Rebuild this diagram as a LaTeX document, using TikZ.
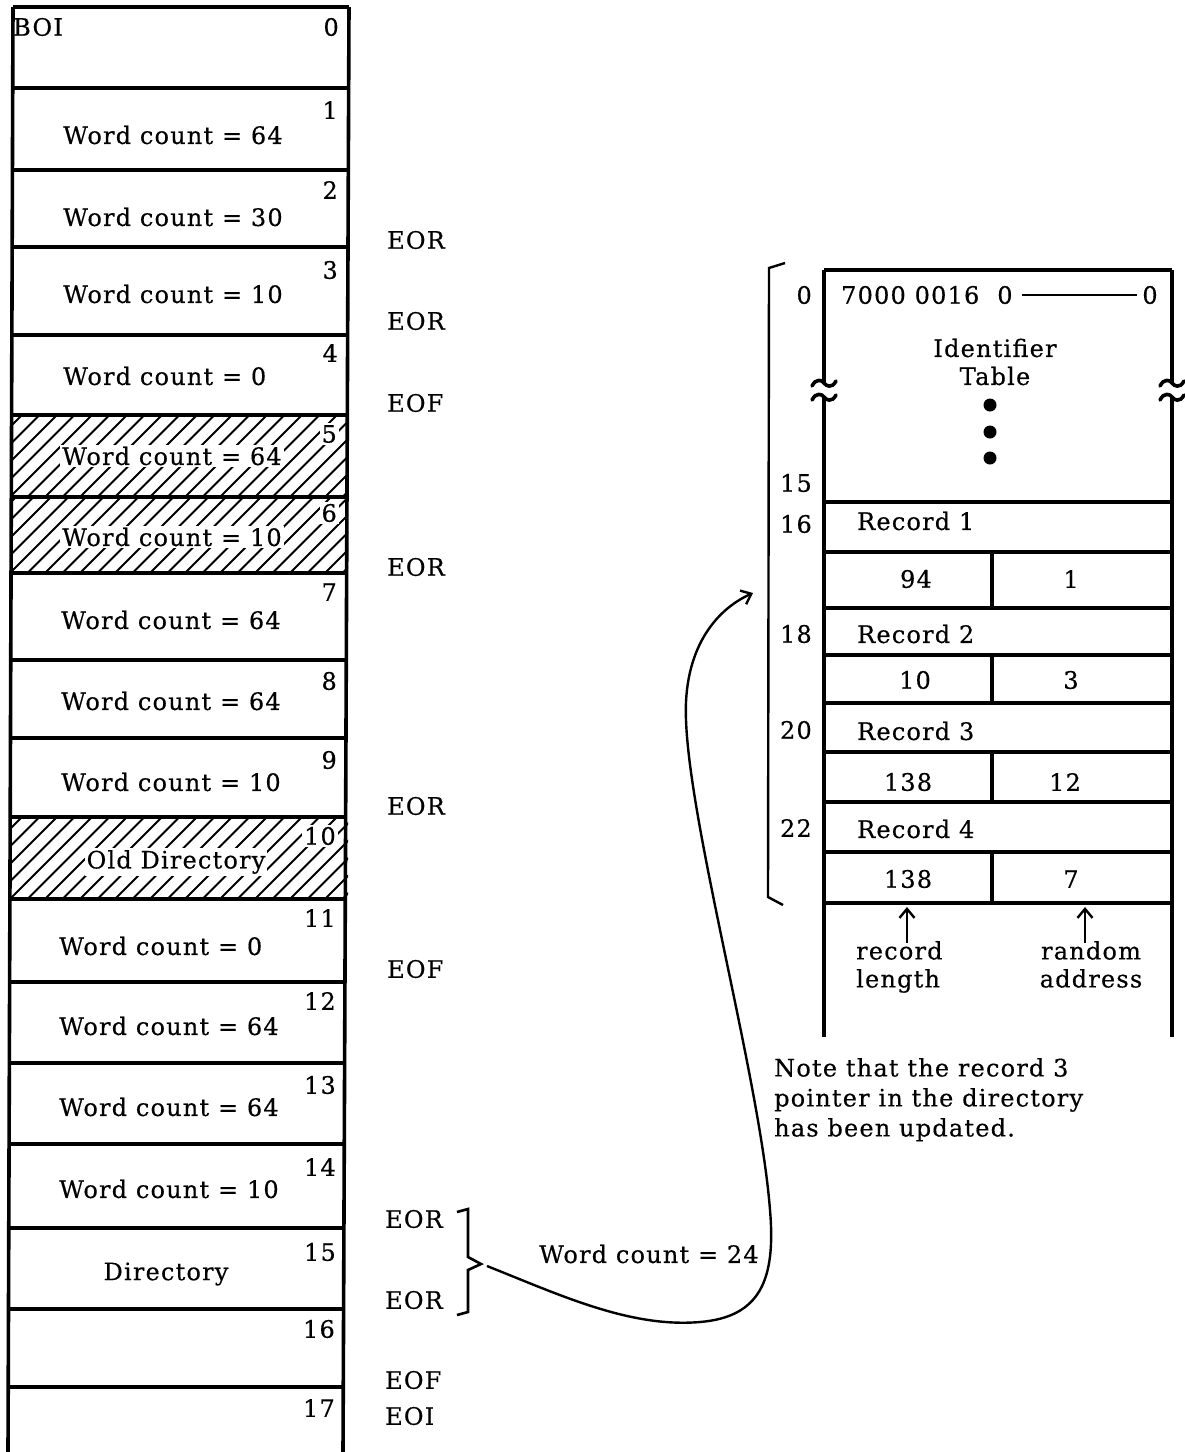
\documentclass[tikz,border=0pt]{standalone}
\usepackage{fontspec}
\setmainfont{DejaVu Serif}[LetterSpace=5,FakeBold=0.4]
\usetikzlibrary{arrows.meta}
\begin{document}
\begin{tikzpicture}[x=1pt,y=-1pt,
  every node/.style={font=\fontsize{24}{28}\selectfont, inner sep=1pt},
  box/.style={line width=3.6pt},
  hatchline/.style={line width=2pt},
  wbg/.style={fill=white, inner sep=2pt},
  barb/.style={-{Straight Barb[length=9pt,width=15pt,line width=2.4pt]}, line width=2.4pt}]
\useasboundingbox (0,0) rectangle (1185,1452);
% ---------- left column ----------
% hatched rows
\foreach \ya/\yb in {415/497, 497/573, 817/899}{
  \begin{scope}
    \clip (10,\ya) rectangle (348,\yb);
    \foreach \k in {-6,...,22}{
      \draw[hatchline] ({10+17.5*\k},\yb) -- ++({\yb-\ya},{\ya-\yb});
    }
  \end{scope}
}
\draw[box] (13,7) -- (8,1452);
\draw[box] (349,7) -- (343,1452);
\foreach \y in {7,88,170,247,335,415,497,573,660,738,817,899,982,1063,1144,1228,1309,1387}{
  \draw[box] ({13-5*\y/1452},\y) -- ({349-6*\y/1452},\y);
}
\node[anchor=west] (boi) at (12,27) {BOI};
\node[anchor=east] (n0) at (340,27) {0};
\node[anchor=east] (n1) at (339,110) {1};
\node[anchor=east] (n2) at (339,190) {2};
\node[anchor=east] (n3) at (339,270) {3};
\node[anchor=east] (n4) at (339,353) {4};
\node[anchor=east,wbg] (n5) at (339,434) {5};
\node[anchor=east,wbg] (n6) at (339,513) {6};
\node[anchor=east] (n7) at (338,592) {7};
\node[anchor=east] (n8) at (338,681) {8};
\node[anchor=east] (n9) at (338,760) {9};
\node[anchor=east,wbg] (n10) at (338,836) {10};
\node[anchor=east] (n11) at (337,918) {11};
\node[anchor=east] (n12) at (337,1001) {12};
\node[anchor=east] (n13) at (337,1085) {13};
\node[anchor=east] (n14) at (337,1167) {14};
\node[anchor=east] (n15) at (337,1252) {15};
\node[anchor=east] (n16) at (336,1329) {16};
\node[anchor=east] (n17) at (336,1408) {17};
\node[anchor=west] (w1) at (62,135) {Word count = 64};
\node[anchor=west] (w2) at (62,217) {Word count = 30};
\node[anchor=west] (w3) at (62,294) {Word count = 10};
\node[anchor=west] (w4) at (62,376) {Word count = 0};
\node[anchor=west,wbg] (w5) at (60,456) {Word count = 64};
\node[anchor=west,wbg] (w6) at (60,537) {Word count = 10};
\node[anchor=west] (w7) at (60,620) {Word count = 64};
\node[anchor=west] (w8) at (60,701) {Word count = 64};
\node[anchor=west] (w9) at (60,782) {Word count = 10};
\node[wbg] (w10) at (176,862) {Old Directory};
\node[anchor=west] (w11) at (58,946) {Word count = 0};
\node[anchor=west] (w12) at (58,1026) {Word count = 64};
\node[anchor=west] (w13) at (58,1107) {Word count = 64};
\node[anchor=west] (w14) at (58,1189) {Word count = 10};
\node (w15) at (166,1274) {Directory};
% ---------- markers ----------
\node[anchor=west] (m1) at (386,240) {EOR};
\node[anchor=west] (m2) at (386,321) {EOR};
\node[anchor=west] (m3) at (386,403) {EOF};
\node[anchor=west] (m4) at (386,567) {EOR};
\node[anchor=west] (m5) at (386,806) {EOR};
\node[anchor=west] (m6) at (386,969) {EOF};
\node[anchor=west] (m7) at (384,1219) {EOR};
\node[anchor=west] (m8) at (384,1300) {EOR};
\node[anchor=west] (m9) at (384,1380) {EOF};
\node[anchor=west] (m10) at (384,1416) {EOI};
% brace
\draw[line width=2.6pt] (457,1212) -- (468,1209) -- (468,1257) -- (481,1264) -- (468,1270) -- (468,1312) -- (457,1315);
\coordinate (bracetip) at (487,1266);
\node[anchor=west] (wc24) at (538,1254) {Word count = 24};
\coordinate (dirtarget) at (753,593);
\draw[barb] (bracetip) .. controls (560,1295) and (630,1328) .. (700,1322)
  .. controls (760,1317) and (776,1280) .. (770,1210)
  .. controls (760,1080) and (690,830) .. (686,720)
  .. controls (683,650) and (715,610) .. (dirtarget);
% ---------- directory table ----------
\draw[line width=2.4pt] (785,263) -- (769,268) -- (768,897) -- (783,905);
\draw[box] (824,270) -- (1172,270);
\draw[box] (824,270) -- (824,383);
\draw[box] (824,397) -- (824,1037);
\draw[box] (1172,270) -- (1172,383);
\draw[box] (1172,397) -- (1172,1037);
\foreach \bx in {824,1172}{
  \foreach \by in {383,397}{
    \draw[line width=3.6pt, line cap=round] ({\bx-12},{\by+3}) .. controls ({\bx-8},{\by-5}) and ({\bx-2},{\by-3}) .. (\bx,\by)
      .. controls ({\bx+2},{\by+3}) and ({\bx+8},{\by+6}) .. ({\bx+12},{\by-2});
  }
}
\foreach \y in {502,552,608,655,703,752,802,852,903}{
  \draw[box] (824,\y) -- (1172,\y);
}
\foreach \ya/\yb in {552/608,655/703,752/802,852/903}{
  \draw[box] (992,\ya) -- (992,\yb);
}
\node[anchor=west] (hdr) at (840,295) {7000 0016\hspace{18pt}0};
\node (hdr0) at (1150,295) {0};
\draw[line width=1.8pt] (hdr.east) ++(8,0) coordinate (hl) -- ([xshift=-4pt]hdr0.west);
\node[align=center] (idt) at (995,362) {Identifier\\Table};
\fill (990,405) circle[radius=6.5pt];
\fill (990,432) circle[radius=6.5pt];
\fill (990,458) circle[radius=6.5pt];
\node[anchor=east] (a0) at (813,295) {0};
\node[anchor=east] (a15) at (813,483) {15};
\node[anchor=east] (a16) at (813,524) {16};
\node[anchor=east] (a18) at (813,634) {18};
\node[anchor=east] (a20) at (813,730) {20};
\node[anchor=east] (a22) at (813,828) {22};
\node[anchor=west] (rec1) at (856,521) {Record 1};
\node[anchor=west] (rec2) at (856,634) {Record 2};
\node[anchor=west] (rec3) at (856,731) {Record 3};
\node[anchor=west] (rec4) at (856,829) {Record 4};
\node (l1) at (916,579) {94};
\node (r1) at (1071,579) {1};
\node (l2) at (915,680) {10};
\node (r2) at (1071,680) {3};
\node (l3) at (908,782) {138};
\node (r3) at (1065,782) {12};
\node (l4) at (908,879) {138};
\node (r4) at (1071,879) {7};
\node[align=left, anchor=north west] (rlen) at (855,940) {record\\length};
\node[align=center, anchor=north] (raddr) at (1091,940) {random\\address};
\coordinate (rlt) at (907,907);
\coordinate (rat) at (1085,907);
\draw[barb] (907,943) -- (rlt);
\draw[barb] (1085,943) -- (rat);
\node[align=left, anchor=north west, font=\fontsize{24}{30}\selectfont] (note) at (773,1057) {Note that the record 3\\pointer in the directory\\has been updated.};
\end{tikzpicture}
\end{document}
